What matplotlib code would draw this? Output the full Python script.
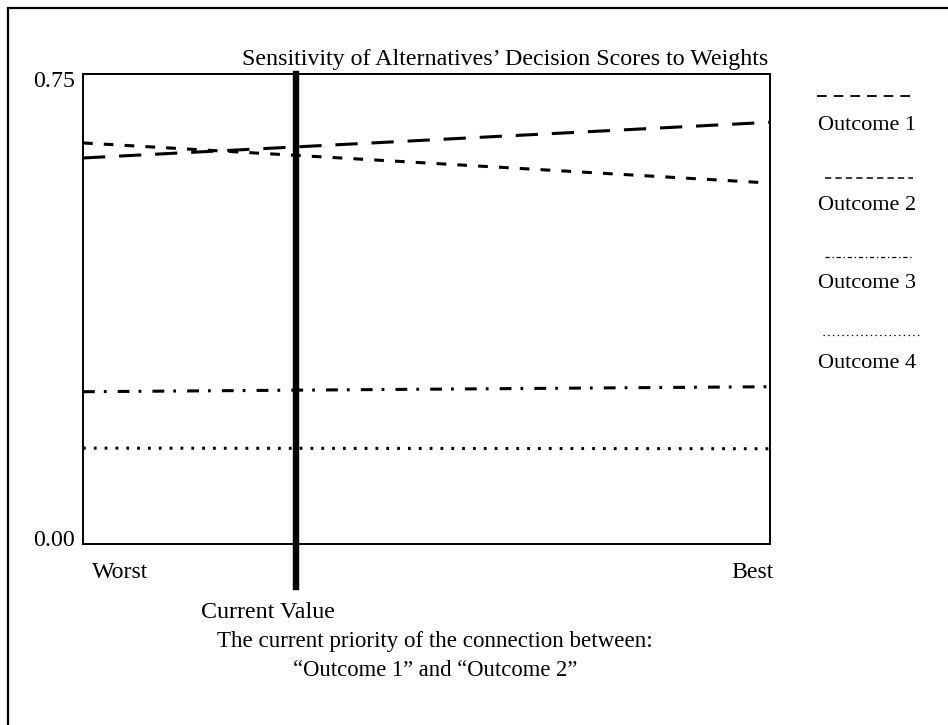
import matplotlib
matplotlib.use("Agg")
import matplotlib.pyplot as plt
from matplotlib.lines import Line2D
from matplotlib.patches import Rectangle
from matplotlib.transforms import offset_copy

plt.rcParams['font.family'] = ['Liberation Serif', 'DejaVu Serif']
plt.rcParams['lines.scale_dashes'] = False

# ---- data ----
x_positions = [0.0, 1.0]
x_labels = ["Worst", "Best"]
series_names = ["Outcome 1", "Outcome 2", "Outcome 3", "Outcome 4"]
outcome1 = [0.616, 0.673]
outcome2 = [0.640, 0.576]
outcome3 = [0.243, 0.251]
outcome4 = [0.153, 0.152]
current_value = 0.31
y_ticks = [0.0, 0.75]
y_tick_labels = ["0.00", "0.75"]
title = "Sensitivity of Alternatives\u2019 Decision Scores to Weights"
current_label = "Current Value"
caption = ["The current priority of the connection between:",
           "\u201cOutcome 1\u201d and \u201cOutcome 2\u201d"]

W, H = 948, 725
fig = plt.figure(figsize=(W / 100, H / 100), dpi=100)

# outer frame
fig.add_artist(Rectangle((8 / W, -0.1), 1.2, 1 - 8 / H + 0.1, transform=fig.transFigure,
                         fill=False, lw=1.6, ec='black'))

ax_l, ax_r, ax_t, ax_b = 83, 770, 74, 544
ax = fig.add_axes([ax_l / W, 1 - ax_b / H, (ax_r - ax_l) / W, (ax_b - ax_t) / H])
ax.set_xlim(0, 1)
ax.set_ylim(0, 0.75)
for s in ax.spines.values():
    s.set_linewidth(1.4)

styles = [
    dict(dashes=(16, 10)),
    dict(dashes=(7, 8)),
    dict(dashes=(8.5, 6.5, 2, 8)),
    dict(dashes=(2, 5.8)),
]
series = [outcome1, outcome2, outcome3, outcome4]
for vals, st in zip(series, styles):
    ax.plot(x_positions, vals, color='black', lw=2.2, solid_capstyle='butt',
            dash_capstyle='butt', **st)

# current value bar
ax.axvline(current_value, ymin=-(587 - ax_b) / (ax_b - ax_t), ymax=1, color='black',
           lw=4.6, clip_on=False)

# ticks (labels drawn as texts to match placement)
ax.set_xticks([])
ax.set_yticks([])
fs = 17.2
yt = ax.get_yaxis_transform()
y_offsets = {0: -2, 1: -13}
for i, (v, lab) in enumerate(zip(y_ticks, y_tick_labels)):
    tr = offset_copy(yt, fig=fig, x=-8, y=y_offsets[i], units='dots')
    ax.text(0, v, lab, transform=tr, ha='right', va='baseline', fontsize=fs)
xt = ax.get_xaxis_transform()
x_ha = ['left', 'right']
x_dx = [9, 3]
for v, lab, ha, dx in zip(x_positions, x_labels, x_ha, x_dx):
    tr = offset_copy(xt, fig=fig, x=dx, y=-29, units='dots')
    ax.text(v, 0, lab, transform=tr, ha=ha, va='center', fontsize=fs)

fig.text(242 / W, 1 - 60 / H, title, ha='left', va='center', fontsize=17.3)
fig.text(268 / W, 1 - 612 / H, current_label, ha='center', va='center', fontsize=17.3)
fig.text(435 / W, 1 - 641 / H, caption[0], ha='center', va='center', fontsize=16.6)
fig.text(435 / W, 1 - 671 / H, caption[1], ha='center', va='center', fontsize=16.3)

# legend (drawn manually)
leg_styles = [
    dict(dashes=(7, 5), lw=1.3),
    dict(dashes=(4.5, 3), lw=1.1),
    dict(dashes=(3, 2, 1, 2), lw=0.9),
    dict(dashes=(1, 2.4), lw=0.9),
]
leg_x = [(817, 913), (825, 913), (825, 913), (823, 920)]
leg_line_y = [96, 178, 257, 335]
leg_text_y = [125, 205, 283, 364]
for name, st, (x0, x1), ly, ty in zip(series_names, leg_styles, leg_x, leg_line_y, leg_text_y):
    fig.add_artist(Line2D([x0 / W, x1 / W], [1 - ly / H, 1 - ly / H],
                          transform=fig.transFigure, color='black',
                          dash_capstyle='butt', **st))
    fig.text(818 / W, 1 - ty / H, name, ha='left', va='center', fontsize=16)

fig.savefig("out.png", dpi=100)
